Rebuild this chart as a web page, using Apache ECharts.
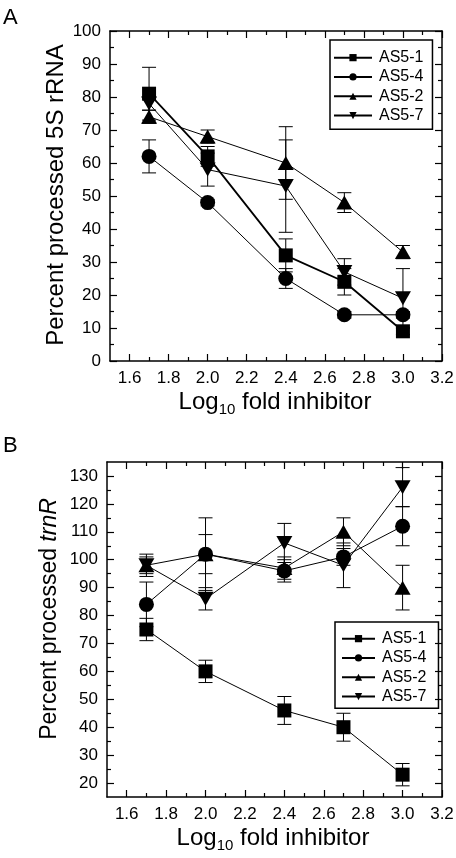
<!DOCTYPE html>
<html><head><meta charset="utf-8">
<script src="https://cdn.jsdelivr.net/npm/echarts@6/dist/echarts.min.js"></script>
<style>html,body{margin:0;padding:0;background:#fff}#c{width:456px;height:858px}</style>
</head><body><div id="c"></div><script>
const xValues = [1.7, 2.0, 2.4, 2.7, 3.0];
const seriesNames = ['AS5-1', 'AS5-4', 'AS5-2', 'AS5-7'];
// Panel A: percent processed 5S rRNA
const a_AS5_1 = [81, 62, 32, 24, 9];
const a_AS5_1_err = [8, 3, 5, 4, 1];
const a_AS5_4 = [62, 48, 25, 14, 14];
const a_AS5_4_err = [5, 1, 3, 1, 1];
const a_AS5_2 = [74, 68, 60, 48, 33];
const a_AS5_2_err = [2, 2, 11, 3, 2];
const a_AS5_7 = [78, 58, 53, 27, 19];
const a_AS5_7_err = [2, 5, 14, 4, 9];
// Panel B: percent processed trnR
const b_AS5_1 = [75, 60, 46, 40, 23];
const b_AS5_1_err = [4, 4, 5, 5, 4];
const b_AS5_4 = [84, 102, 96, 101, 112];
const b_AS5_4_err = [8, 7, 4, 3, 7];
const b_AS5_2 = [98, 102, 97, 110, 90];
const b_AS5_2_err = [3, 13, 4, 5, 8];
const b_AS5_7 = [98, 86, 106, 98, 126];
const b_AS5_7_err = [4, 4, 7, 8, 7];
// Tick labels
const xTickLabels = [1.6, 1.8, 2.0, 2.2, 2.4, 2.6, 2.8, 3.0, 3.2];
const xMinorTicks = [1.7, 1.9, 2.1, 2.3, 2.5, 2.7, 2.9, 3.1];
const yTickLabelsA = [0, 10, 20, 30, 40, 50, 60, 70, 80, 90, 100];
const yMinorTicksA = [5, 15, 25, 35, 45, 55, 65, 75, 85, 95];
const yTickLabelsB = [20, 30, 40, 50, 60, 70, 80, 90, 100, 110, 120, 130];
const yMinorTicksB = [25, 35, 45, 55, 65, 75, 85, 95, 105, 115, 125];

const FONT = "'Liberation Sans', Arial, sans-serif";
const BLACK = '#000';

const chart = echarts.init(document.getElementById('c'), null, {renderer: 'canvas'});

function tick(values, len) {
  return {show: true, inside: true, length: len, customValues: values, lineStyle: {color: BLACK, width: 1.2}};
}
function xAxes(g) {
  const base = {type: 'value', gridIndex: g, min: 1.5, max: 3.2, splitLine: {show: false}};
  const line = {show: true, onZero: false, lineStyle: {color: BLACK, width: 1.5}};
  return [
    Object.assign({}, base, {position: 'bottom', axisLine: line, axisTick: tick(xTickLabels, 7),
      axisLabel: {show: true, customValues: xTickLabels, formatter: v => Number(v).toFixed(1), margin: 9, fontSize: 17, color: BLACK, fontFamily: FONT}}),
    Object.assign({}, base, {position: 'bottom', axisLine: {show: false, onZero: false}, axisTick: tick(xMinorTicks, 4), axisLabel: {show: false}}),
    Object.assign({}, base, {position: 'top', axisLine: line, axisTick: tick(xTickLabels, 7), axisLabel: {show: false}}),
    Object.assign({}, base, {position: 'top', axisLine: {show: false, onZero: false}, axisTick: tick(xMinorTicks, 4), axisLabel: {show: false}})
  ];
}
function yAxes(g, min, max, major, minor) {
  const base = {type: 'value', gridIndex: g, min: min, max: max, splitLine: {show: false}};
  const line = {show: true, onZero: false, lineStyle: {color: BLACK, width: 1.5}};
  return [
    Object.assign({}, base, {position: 'left', axisLine: line, axisTick: tick(major, 7),
      axisLabel: {show: true, customValues: major, margin: 9, fontSize: 17, color: BLACK, fontFamily: FONT}}),
    Object.assign({}, base, {position: 'left', axisLine: {show: false, onZero: false}, axisTick: tick(minor, 4), axisLabel: {show: false}}),
    Object.assign({}, base, {position: 'right', axisLine: line, axisTick: tick(major, 7), axisLabel: {show: false}}),
    Object.assign({}, base, {position: 'right', axisLine: {show: false, onZero: false}, axisTick: tick(minor, 4), axisLabel: {show: false}})
  ];
}

const symbols = {
  'AS5-1': {symbol: 'rect', symbolSize: 14, symbolRotate: 0},
  'AS5-4': {symbol: 'circle', symbolSize: 15, symbolRotate: 0},
  'AS5-2': {symbol: 'triangle', symbolSize: [16, 14], symbolRotate: 0},
  'AS5-7': {symbol: 'triangle', symbolSize: [16, 14], symbolRotate: 180}
};

function lineSeries(prefix, name, vals, axIdx, width) {
  const s = symbols[name];
  return {
    type: 'line', name: prefix + name, xAxisIndex: axIdx, yAxisIndex: axIdx,
    data: xValues.map((x, i) => [x, vals[i]]),
    symbol: s.symbol, symbolSize: s.symbolSize, symbolRotate: s.symbolRotate,
    showAllSymbol: true, animation: false,
    lineStyle: {color: BLACK, width: width},
    itemStyle: {color: BLACK},
    z: 3
  };
}
function errSeries(vals, errs, axIdx) {
  return {
    type: 'custom', xAxisIndex: axIdx, yAxisIndex: axIdx, animation: false, silent: true, z: 2,
    data: xValues.map((x, i) => [x, vals[i], errs[i]]),
    renderItem: function (params, api) {
      const x = api.value(0), y = api.value(1), e = api.value(2);
      const t = api.coord([x, y + e]);
      const b = api.coord([x, y - e]);
      const hw = 7;
      const st = {stroke: BLACK, lineWidth: 1, fill: null};
      return {type: 'group', children: [
        {type: 'line', shape: {x1: t[0], y1: t[1], x2: b[0], y2: b[1]}, style: st},
        {type: 'line', shape: {x1: t[0] - hw, y1: t[1], x2: t[0] + hw, y2: t[1]}, style: st},
        {type: 'line', shape: {x1: b[0] - hw, y1: b[1], x2: b[0] + hw, y2: b[1]}, style: st}
      ]};
    }
  };
}

const panelA = [[a_AS5_1, a_AS5_1_err], [a_AS5_4, a_AS5_4_err], [a_AS5_2, a_AS5_2_err], [a_AS5_7, a_AS5_7_err]];
const panelB = [[b_AS5_1, b_AS5_1_err], [b_AS5_4, b_AS5_4_err], [b_AS5_2, b_AS5_2_err], [b_AS5_7, b_AS5_7_err]];

const series = [];
panelA.forEach((p, i) => {
  series.push(errSeries(p[0], p[1], 0));
  series.push(lineSeries('A ', seriesNames[i], p[0], 0, i === 0 ? 1.8 : 1));
});
panelB.forEach((p, i) => {
  series.push(errSeries(p[0], p[1], 4));
  series.push(lineSeries('B ', seriesNames[i], p[0], 4, 1));
});

function legend(prefix, left, top, itemWidth, padding) {
  return {
    data: seriesNames.map(n => prefix + n),
    formatter: n => n.slice(prefix.length),
    orient: 'vertical', left: left, top: top,
    itemWidth: itemWidth, itemHeight: 9, itemGap: 2, padding: padding,
    borderColor: BLACK, borderWidth: 1.5, borderRadius: 0,
    selectedMode: false,
    textStyle: {fontSize: 16, color: BLACK, fontFamily: FONT, lineHeight: 17.3, padding: [0, 0, 0, 2]}
  };
}

const titleRich = {
  sub: {fontSize: 15, fontFamily: FONT, fill: BLACK, padding: [16, 0, 0, 0]},
  it: {fontSize: 23, fontFamily: FONT, fill: BLACK, fontStyle: 'italic'}
};

const option = {
  backgroundColor: '#fff',
  animation: false,
  grid: [
    {left: 110, top: 31, right: 14, height: 330, containLabel: false, outerBoundsMode: 'none'},
    {left: 107, top: 462, right: 14, height: 335, containLabel: false, outerBoundsMode: 'none'}
  ],
  xAxis: xAxes(0).concat(xAxes(1)),
  yAxis: yAxes(0, 0, 100, yTickLabelsA, yMinorTicksA).concat(yAxes(1, 15, 135, yTickLabelsB, yMinorTicksB)),
  legend: [legend('A ', 330, 40, 38, [9, 9, 5, 3]), legend('B ', 335, 622, 33, [8, 12, 3, 6])],
  series: series,
  graphic: [
    {type: 'text', left: 3, top: 7, style: {text: 'A', font: '22px ' + FONT, fill: BLACK}},
    {type: 'text', left: 3, top: 435, style: {text: 'B', font: '22px ' + FONT, fill: BLACK}},
    {type: 'text', x: 56, y: 195, rotation: Math.PI / 2,
      style: {text: 'Percent processed 5S rRNA', font: '24px ' + FONT, fill: BLACK, align: 'center', verticalAlign: 'middle', textAlign: 'center', textVerticalAlign: 'middle'}},
    {type: 'text', x: 50, y: 619, rotation: Math.PI / 2,
      style: {text: 'Percent processed {it|trnR}', font: '23px ' + FONT, fill: BLACK, rich: titleRich, align: 'center', verticalAlign: 'middle', textAlign: 'center', textVerticalAlign: 'middle'}},
    {type: 'text', x: 275, y: 402,
      style: {text: 'Log{sub|10} fold inhibitor', font: '24px ' + FONT, fill: BLACK, rich: titleRich, align: 'center', verticalAlign: 'middle', textAlign: 'center', textVerticalAlign: 'middle'}},
    {type: 'text', x: 273, y: 838,
      style: {text: 'Log{sub|10} fold inhibitor', font: '24px ' + FONT, fill: BLACK, rich: titleRich, align: 'center', verticalAlign: 'middle', textAlign: 'center', textVerticalAlign: 'middle'}}
  ]
};
chart.setOption(option);
</script></body></html>
